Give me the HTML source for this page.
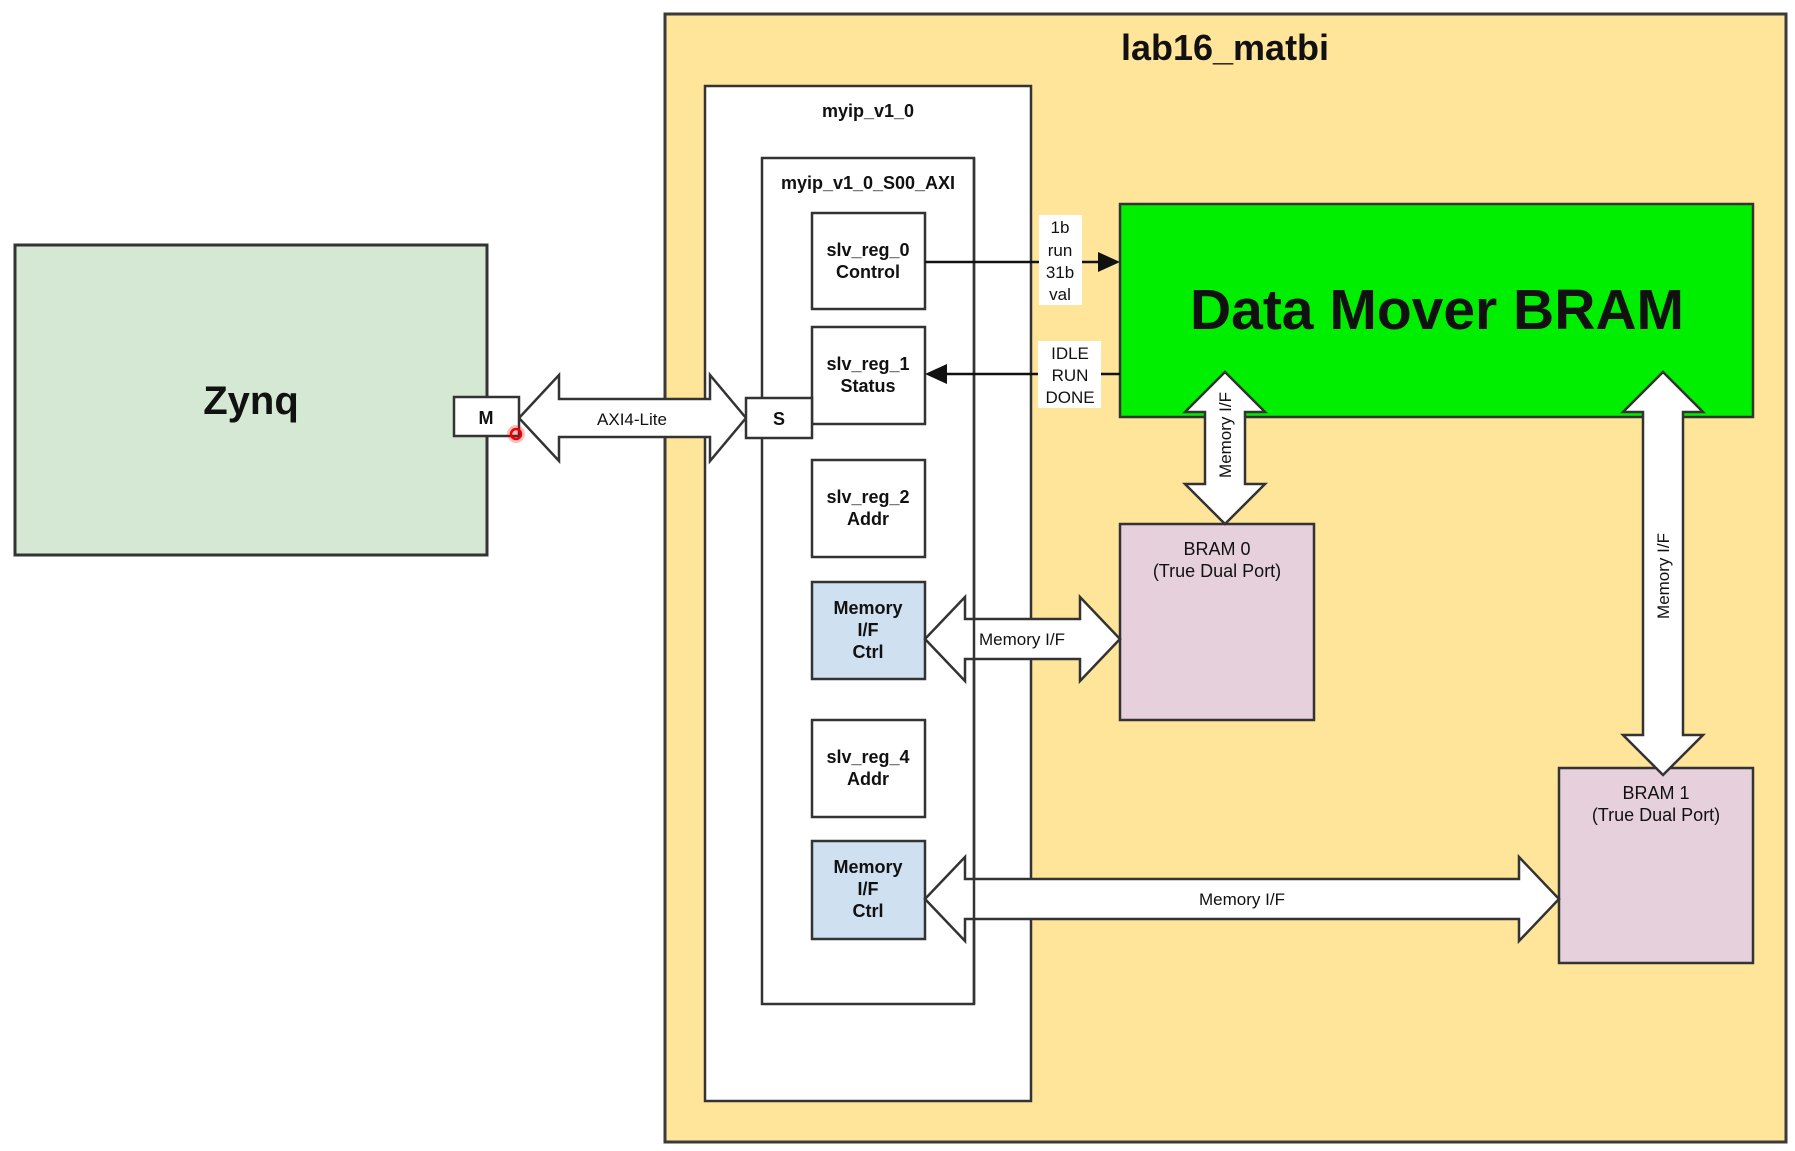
<!DOCTYPE html>
<html><head><meta charset="utf-8"><style>
html,body{margin:0;padding:0;background:#fff;}
svg{display:block;}
text{font-family:"Liberation Sans",Arial,sans-serif;fill:#111;}
</style></head><body>
<svg width="1795" height="1151" viewBox="0 0 1795 1151" xmlns="http://www.w3.org/2000/svg">
<rect x="665" y="14" width="1121" height="1128" fill="#fee599" stroke="#3a3a3a" stroke-width="3"/>
<text x="1225" y="60" font-size="36" font-weight="bold" text-anchor="middle">lab16_matbi</text>
<rect x="15" y="245" width="472" height="310" fill="#d5e8d4" stroke="#333" stroke-width="3"/>
<text x="251" y="414" font-size="40" font-weight="bold" text-anchor="middle">Zynq</text>
<rect x="705" y="86" width="326" height="1015" fill="#fff" stroke="#333" stroke-width="2.5"/>
<text x="868" y="117" font-size="18" font-weight="bold" text-anchor="middle">myip_v1_0</text>
<rect x="762" y="158" width="212" height="846" fill="#fff" stroke="#333" stroke-width="2.5"/>
<text x="868" y="189" font-size="18" font-weight="bold" text-anchor="middle">myip_v1_0_S00_AXI</text>
<g stroke="#333" stroke-width="2.5">
<rect x="812" y="213" width="113" height="96" fill="#fff"/>
<rect x="812" y="327" width="113" height="97" fill="#fff"/>
<rect x="812" y="460" width="113" height="97" fill="#fff"/>
<rect x="812" y="582" width="113" height="97" fill="#cfe0f0"/>
<rect x="812" y="720" width="113" height="97" fill="#fff"/>
<rect x="812" y="841" width="113" height="98" fill="#cfe0f0"/>
</g>
<g font-size="18" font-weight="bold" text-anchor="middle">
<text x="868" y="256">slv_reg_0</text><text x="868" y="278">Control</text>
<text x="868" y="370">slv_reg_1</text><text x="868" y="392">Status</text>
<text x="868" y="503">slv_reg_2</text><text x="868" y="525">Addr</text>
<text x="868" y="614">Memory</text><text x="868" y="636">I/F</text><text x="868" y="658">Ctrl</text>
<text x="868" y="763">slv_reg_4</text><text x="868" y="785">Addr</text>
<text x="868" y="873">Memory</text><text x="868" y="895">I/F</text><text x="868" y="917">Ctrl</text>
</g>
<rect x="1120" y="204" width="633" height="213" fill="#00ee00" stroke="#333" stroke-width="2.5"/>
<text x="1437" y="329" font-size="57" font-weight="bold" text-anchor="middle">Data Mover BRAM</text>
<rect x="1120" y="524" width="194" height="196" fill="#e6d0dc" stroke="#333" stroke-width="2.5"/>
<text x="1217" y="555" font-size="18" text-anchor="middle">BRAM 0</text>
<text x="1217" y="577" font-size="18" text-anchor="middle">(True Dual Port)</text>
<rect x="1559" y="768" width="194" height="195" fill="#e6d0dc" stroke="#333" stroke-width="2.5"/>
<text x="1656" y="799" font-size="18" text-anchor="middle">BRAM 1</text>
<text x="1656" y="821" font-size="18" text-anchor="middle">(True Dual Port)</text>
<g fill="#fff" stroke="#333" stroke-width="2.5" stroke-linejoin="miter">
<path d="M519,418 L559,375 L559,399 L710,399 L710,375 L746,418 L710,461 L710,437 L559,437 L559,461 Z"/>
<path d="M925,639 L965,597 L965,619 L1080,619 L1080,597 L1120,639 L1080,681 L1080,659 L965,659 L965,681 Z"/>
<path d="M925,899 L965,857 L965,879 L1519,879 L1519,857 L1559,899 L1519,941 L1519,919 L965,919 L965,941 Z"/>
<path d="M1225,372 L1265,412 L1245,412 L1245,484 L1265,484 L1225,524 L1185,484 L1205,484 L1205,412 L1185,412 Z"/>
<path d="M1663,372 L1703,412 L1683,412 L1683,735 L1703,735 L1663,775 L1623,735 L1643,735 L1643,412 L1623,412 Z"/>
</g>
<line x1="974" y1="158" x2="974" y2="1004" stroke="#333" stroke-width="2.5"/>
<g font-size="17" fill="#222">
<text x="632" y="425" text-anchor="middle">AXI4-Lite</text>
<text x="1022" y="645" text-anchor="middle">Memory I/F</text>
<text x="1242" y="905" text-anchor="middle">Memory I/F</text>
<text transform="translate(1231,435) rotate(-90)" text-anchor="middle">Memory I/F</text>
<text transform="translate(1669,576) rotate(-90)" text-anchor="middle">Memory I/F</text>
</g>
<rect x="454" y="397" width="65" height="39" fill="#fff" stroke="#333" stroke-width="2.5"/>
<text x="486" y="424" font-size="18" font-weight="bold" text-anchor="middle">M</text>
<rect x="746" y="398" width="66" height="40" fill="#fff" stroke="#333" stroke-width="2.5"/>
<text x="779" y="425" font-size="18" font-weight="bold" text-anchor="middle">S</text>
<circle cx="516" cy="434" r="9" fill="#ff0000" opacity="0.25"/>
<circle cx="516" cy="434" r="5" fill="none" stroke="#e00" stroke-width="2.5"/>
<line x1="925" y1="262" x2="1100" y2="262" stroke="#111" stroke-width="2.5"/>
<path d="M1120,262 L1098,252 L1098,272 Z" fill="#111"/>
<line x1="945" y1="374" x2="1120" y2="374" stroke="#111" stroke-width="2.5"/>
<path d="M925,374 L947,364 L947,384 Z" fill="#111"/>
<rect x="1039" y="215" width="43" height="90" fill="#fff"/>
<g font-size="17" text-anchor="middle">
<text x="1060" y="233">1b</text><text x="1060" y="256">run</text><text x="1060" y="278">31b</text><text x="1060" y="300">val</text>
</g>
<rect x="1038" y="341" width="63" height="67" fill="#fff"/>
<g font-size="17" text-anchor="middle">
<text x="1070" y="359">IDLE</text><text x="1070" y="381">RUN</text><text x="1070" y="403">DONE</text>
</g>
</svg>
</body></html>
